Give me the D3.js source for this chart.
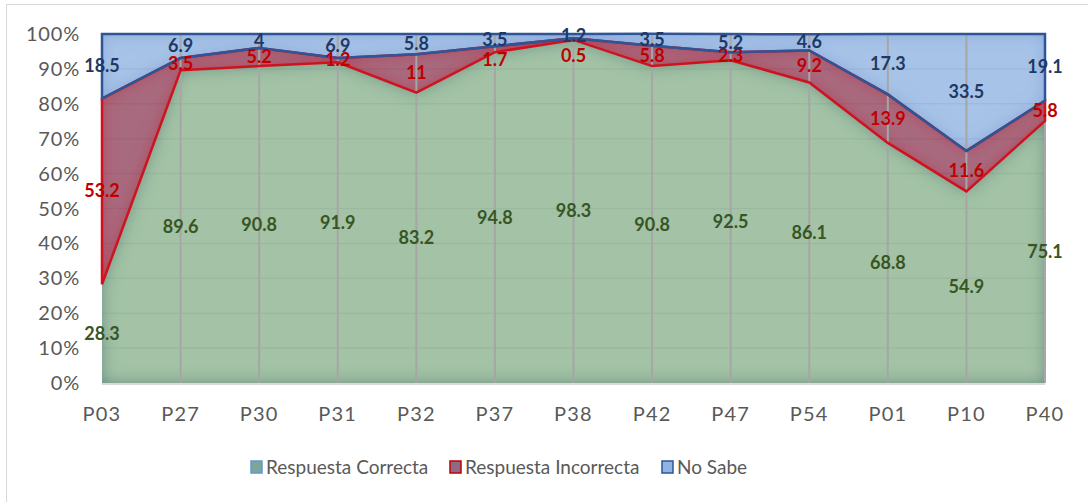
<!DOCTYPE html>
<html lang="es">
<head>
<meta charset="utf-8">
<title>Respuestas por pregunta</title>
<script src="https://cdn.jsdelivr.net/npm/d3@7"></script>
<style>
    body { margin: 0; background: #fff; }
    svg { font-family: Lato, "Noto Sans", sans-serif; }
    .tick-y, .tick-x { fill: #595959; }
    .lbl { font-weight: bold; font-size: 18px; text-anchor: middle; }
</style>
</head>
<body>
<script>
// categories and series (percent)
var preguntas = ['P03', 'P27', 'P30', 'P31', 'P32', 'P37', 'P38', 'P42', 'P47', 'P54', 'P01', 'P10', 'P40'];
var correcta   = [28.3, 89.6, 90.8, 91.9, 83.2, 94.8, 98.3, 90.8, 92.5, 86.1, 68.8, 54.9, 75.1];
var incorrecta = [53.2, 3.5, 5.2, 1.2, 11, 1.7, 0.5, 5.8, 2.3, 9.2, 13.9, 11.6, 5.8];
var noSabe     = [18.5, 6.9, 4, 6.9, 5.8, 3.5, 1.2, 3.5, 5.2, 4.6, 17.3, 33.5, 19.1];
var yTicks = [0, 10, 20, 30, 40, 50, 60, 70, 80, 90, 100];
var seriesNames = ['Respuesta Correcta', 'Respuesta Incorrecta', 'No Sabe'];

var W = 1088, H = 502;

// table for the stack
var table = preguntas.map(function(p, i) {
    return { p: p, c: correcta[i], i: incorrecta[i], n: noSabe[i] };
});
var keys = ['c', 'i', 'n'];
var series = d3.stack().keys(keys)(table);

var x = d3.scalePoint().domain(preguntas).range([102, 1045]);
var y = d3.scaleLinear().domain([0, 100]).range([383, 34]);

var fills   = { c: '#a3c2a6', i: '#a86a7f', n: '#a7c3e7' };
var glows   = { c: '#4d7d76', i: '#b2354d', n: '#7fa2d8' };
var strokes = { c: null, i: '#d0121f', n: '#2f5597' };
var lblCol  = { c: '#375623', i: '#c00000', n: '#1f3864' };

var svg = d3.select('body').append('svg')
    .attr('width', W)
    .attr('height', H);

// chart frame
svg.append('rect')
    .attr('x', 6.5).attr('y', 4.5)
    .attr('width', W + 20).attr('height', H + 20)
    .attr('fill', 'none')
    .attr('stroke', '#d9d9d9');

// inner glow filters
var defs = svg.append('defs');
keys.forEach(function(k) {
    var f = defs.append('filter').attr('id', 'glow-' + k)
        .attr('x', '-5%').attr('y', '-5%').attr('width', '110%').attr('height', '110%');
    f.append('feGaussianBlur').attr('in', 'SourceAlpha').attr('stdDeviation', 8).attr('result', 'blur');
    f.append('feComposite').attr('in', 'SourceAlpha').attr('in2', 'blur').attr('operator', 'out').attr('result', 'edge');
    f.append('feFlood').attr('flood-color', glows[k]).attr('flood-opacity', 0.85).attr('result', 'col');
    f.append('feComposite').attr('in', 'col').attr('in2', 'edge').attr('operator', 'in').attr('result', 'sh');
    var m = f.append('feMerge');
    m.append('feMergeNode').attr('in', 'SourceGraphic');
    m.append('feMergeNode').attr('in', 'sh');
});

var area = d3.area()
    .x(function(d) { return x(d.data.p); })
    .y0(function(d) { return y(d[0]); })
    .y1(function(d) { return y(d[1]); });

// area fills
svg.append('g').selectAll('path')
    .data(series)
    .enter()
    .append('path')
    .attr('d', area)
    .attr('fill', function(s) { return fills[s.key]; })
    .attr('filter', function(s) { return 'url(#glow-' + s.key + ')'; });

// horizontal gridlines (faint)
svg.append('g').selectAll('line')
    .data(yTicks.slice(1, -1))
    .enter()
    .append('line')
    .attr('x1', x.range()[0]).attr('x2', x.range()[1])
    .attr('y1', function(d) { return y(d); })
    .attr('y2', function(d) { return y(d); })
    .attr('stroke', 'rgba(0,0,0,0.045)')
    .attr('stroke-width', 1.5);

// vertical gridlines
svg.append('g').selectAll('line')
    .data(preguntas.slice(1))
    .enter()
    .append('line')
    .attr('x1', function(d) { return x(d); })
    .attr('x2', function(d) { return x(d); })
    .attr('y1', y(100)).attr('y2', y(0))
    .attr('stroke', '#a6a6a6')
    .attr('stroke-width', 2);

// bottom axis line
svg.append('line')
    .attr('x1', x.range()[0]).attr('x2', x.range()[1])
    .attr('y1', y(0) + 1).attr('y2', y(0) + 1)
    .attr('stroke', '#d9d9d9')
    .attr('stroke-width', 2);

// area outlines
svg.append('g').selectAll('path')
    .data(series.filter(function(s) { return strokes[s.key]; }))
    .enter()
    .append('path')
    .attr('d', area)
    .attr('fill', 'none')
    .attr('stroke', function(s) { return strokes[s.key]; })
    .attr('stroke-width', 2.5)
    .attr('stroke-linejoin', 'miter');

// y axis labels
svg.append('g').selectAll('text')
    .data(yTicks)
    .enter()
    .append('text')
    .attr('class', 'tick-y')
    .attr('x', 80)
    .attr('y', function(d) { return y(d) + 7; })
    .attr('text-anchor', 'end')
    .attr('font-size', 20)
    .attr('letter-spacing', 0.8)
    .text(function(d) { return d + '%'; });

// x axis labels
svg.append('g').selectAll('text')
    .data(preguntas)
    .enter()
    .append('text')
    .attr('class', 'tick-x')
    .attr('x', function(d) { return x(d); })
    .attr('y', 421)
    .attr('text-anchor', 'middle')
    .attr('font-size', 20)
    .attr('letter-spacing', 1.2)
    .text(function(d) { return d; });

// data labels, centred in each band; a red label too close to the
// blue one above it is pushed below it
var mid = function(d) { return y((d[0] + d[1]) / 2) + 6; };
var labelY = {};
['n', 'i', 'c'].forEach(function(k) {
    var s = series[keys.indexOf(k)];
    labelY[k] = s.map(function(d, j) {
        var yy = mid(d);
        if (k === 'i' && yy - labelY.n[j] < 12) yy = labelY.n[j] + 20;
        return yy;
    });
});

series.forEach(function(s) {
    svg.append('g').selectAll('text')
        .data(s)
        .enter()
        .append('text')
        .attr('class', 'lbl')
        .attr('fill', lblCol[s.key])
        .attr('x', function(d) { return x(d.data.p); })
        .attr('y', function(d, j) { return labelY[s.key][j]; })
        .text(function(d) { return d.data[s.key]; });
});

// legend
var legX = [251, 450, 662];
var leg = svg.append('g').selectAll('g')
    .data(keys)
    .enter()
    .append('g')
    .attr('transform', function(d, i) { return 'translate(' + legX[i] + ',461)'; });

leg.append('rect')
    .attr('width', 11).attr('height', 12)
    .attr('fill', function(d) { return { c: '#7fa49a', i: '#8e6a88', n: '#8fb3e2' }[d]; })
    .attr('stroke', function(d) { return { c: '#5b9bd5', i: '#c00000', n: '#2f5597' }[d]; })
    .attr('stroke-width', 1.5);

leg.append('text')
    .attr('x', 15)
    .attr('y', 13)
    .attr('font-size', 19)
    .attr('fill', '#595959')
    .text(function(d, i) { return seriesNames[i]; });
</script>
</body>
</html>
